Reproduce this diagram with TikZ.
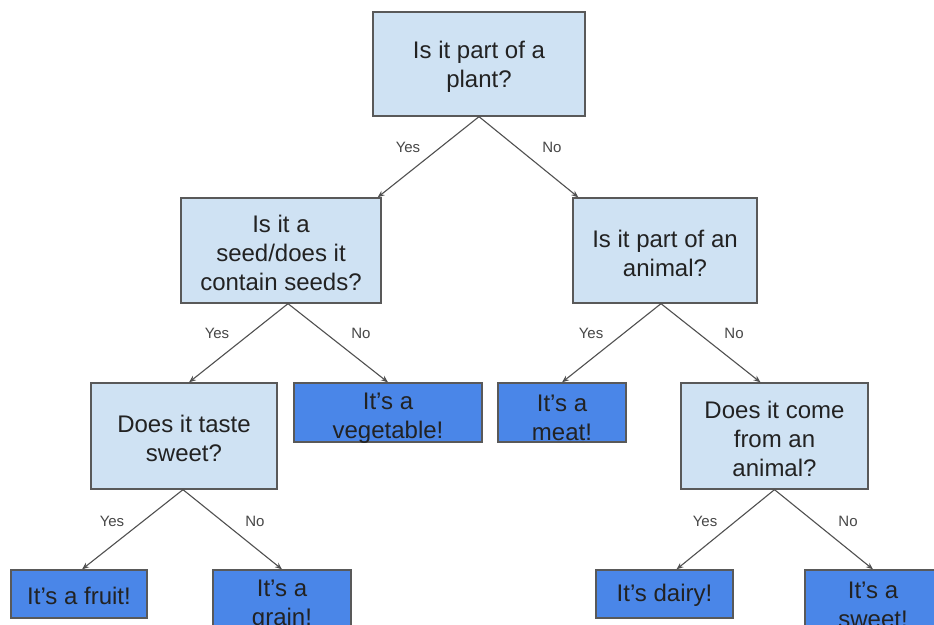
\documentclass[tikz,border=0pt]{standalone}
\usepackage{fontspec}
\setmainfont{Liberation Sans}
\usetikzlibrary{arrows.meta}
\definecolor{lightq}{HTML}{CFE2F3}
\definecolor{darkans}{HTML}{4A86E8}
\definecolor{edgegray}{HTML}{595959}
\definecolor{txtcol}{HTML}{222222}
\tikzset{
  qbox/.style={draw=edgegray, line width=1.3pt, fill=lightq, inner sep=0pt},
  abox/.style={draw=edgegray, line width=1.3pt, fill=darkans, inner sep=0pt},
  boxtext/.style={align=center, inner sep=0pt, text=txtcol, font=\fontsize{24}{29}\selectfont, yshift=-2.5pt},
  lowtext/.style={boxtext, yshift=-3pt},
  lbl/.style={inner sep=0pt, text=edgegray!80!black, font=\fontsize{15}{18}\selectfont},
  conn/.style={draw=edgegray!90!black, line width=1.1pt, -{Stealth[length=7pt,width=5.5pt]}}
}
\begin{document}
\begin{tikzpicture}[x=1pt,y=-1pt]
\useasboundingbox (0,0) rectangle (934,624);
\clip (0,0) rectangle (934,624);
\fill[white] (0,0) rectangle (934,624);
% question boxes
\node[qbox, minimum width=212pt, minimum height=104pt] (plant) at (479,64) {};
\node[boxtext] (plantT) at (plant) {Is it part of a\\plant?};
\node[qbox, minimum width=200pt, minimum height=105pt] (seeds) at (281,250.5) {};
\node[boxtext] (seedsT) at (seeds) {Is it a\\seed/does it\\contain seeds?};
\node[qbox, minimum width=184pt, minimum height=105pt] (animal) at (665,250.5) {};
\node[boxtext] (animalT) at (animal) {Is it part of an\\animal?};
\node[qbox, minimum width=186pt, minimum height=106pt] (taste) at (184,436) {};
\node[boxtext] (tasteT) at (taste) {Does it taste\\sweet?};
\node[qbox, minimum width=187pt, minimum height=106pt] (come) at (774.5,436) {};
\node[boxtext] (comeT) at (come) {Does it come\\from an\\animal?};
% answer boxes
\node[abox, minimum width=188pt, minimum height=59pt] (veg) at (388,412.5) {};
\node[lowtext] (vegT) at (veg) {It’s a\\vegetable!};
\node[abox, minimum width=128pt, minimum height=59pt] (meat) at (562,412.5) {};
\node[lowtext] (meatT) at (meat) {It’s a\\meat!};
\node[abox, minimum width=136pt, minimum height=48pt] (fruit) at (79,594) {};
\node[boxtext, yshift=1pt] (fruitT) at (fruit) {It’s a fruit!};
\node[abox, minimum width=138pt, minimum height=59pt] (grain) at (282,599.5) {};
\node[lowtext] (grainT) at (grain) {It’s a\\grain!};
\node[abox, minimum width=137pt, minimum height=48pt] (dairy) at (664.5,594) {};
\node[boxtext, yshift=1pt] (dairyT) at (dairy) {It’s dairy!};
\node[abox, minimum width=136pt, minimum height=59pt] (sweet) at (873,599.5) {};
\node[lowtext] (sweetT) at (sweet) {It’s a\\sweet!};
% connectors
\draw[conn] (plant.south) -- ([xshift=-4pt]seeds.north east);
\draw[conn] (plant.south) -- ([xshift=6pt]animal.north west);
\draw[conn] ([xshift=7pt]seeds.south) -- ([xshift=5pt]taste.north);
\draw[conn] ([xshift=7pt]seeds.south) -- (veg.north);
\draw[conn] ([xshift=-4pt]animal.south) -- (meat.north);
\draw[conn] ([xshift=-4pt]animal.south) -- ([xshift=-14pt]come.north);
\draw[conn] ([xshift=-1pt]taste.south) -- ([xshift=3pt]fruit.north);
\draw[conn] ([xshift=-1pt]taste.south) -- (grain.north);
\draw[conn] (come.south) -- ([xshift=12pt]dairy.north);
\draw[conn] (come.south) -- (sweet.north);
% labels
\node[lbl] (y1) at (408,147) {Yes};
\node[lbl] (n1) at (552,147) {No};
\node[lbl] (y2) at (217,333) {Yes};
\node[lbl] (n2) at (361,333) {No};
\node[lbl] (y3) at (591,333) {Yes};
\node[lbl] (n3) at (734,333) {No};
\node[lbl] (y4) at (112,521) {Yes};
\node[lbl] (n4) at (255,521) {No};
\node[lbl] (y5) at (705,521) {Yes};
\node[lbl] (n5) at (848,521) {No};
\end{tikzpicture}
\end{document}
